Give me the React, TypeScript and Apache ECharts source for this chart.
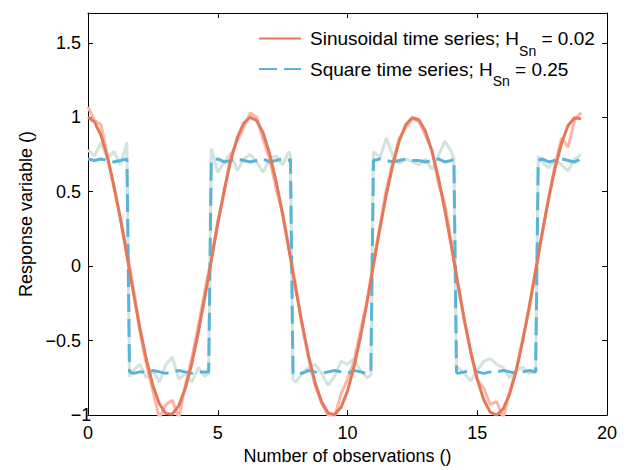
import React, { useEffect, useRef } from "react";
import * as echarts from "echarts";

// x grid for the sinusoidal series
const sinX = [0, 0.25, 0.5, 0.75, 1, 1.25, 1.5, 1.75, 2, 2.25, 2.5, 2.75, 3, 3.25, 3.5, 3.75, 4, 4.25, 4.5, 4.75, 5, 5.25, 5.5, 5.75, 6, 6.25, 6.5, 6.75, 7, 7.25, 7.5, 7.75, 8, 8.25, 8.5, 8.75, 9, 9.25, 9.5, 9.75, 10, 10.25, 10.5, 10.75, 11, 11.25, 11.5, 11.75, 12, 12.25, 12.5, 12.75, 13, 13.25, 13.5, 13.75, 14, 14.25, 14.5, 14.75, 15, 15.25, 15.5, 15.75, 16, 16.25, 16.5, 16.75, 17, 17.25, 17.5, 17.75, 18, 18.25, 18.5, 18.75, 19];

const sinSmooth = [1.0, 0.969, 0.878, 0.732, 0.54, 0.315, 0.071, -0.178, -0.416, -0.628, -0.801, -0.924, -0.99, -0.994, -0.936, -0.82, -0.654, -0.446, -0.211, 0.037, 0.284, 0.512, 0.709, 0.862, 0.96, 1.0, 0.977, 0.894, 0.754, 0.568, 0.347, 0.104, -0.146, -0.386, -0.602, -0.781, -0.911, -0.985, -0.997, -0.948, -0.839, -0.677, -0.476, -0.245, 0.004, 0.253, 0.484, 0.683, 0.844, 0.951, 0.998, 0.983, 0.907, 0.775, 0.595, 0.378, 0.137, -0.113, -0.356, -0.575, -0.76, -0.897, -0.98, -1.0, -0.958, -0.857, -0.702, -0.504, -0.275, -0.028, 0.22, 0.453, 0.66, 0.827, 0.945, 0.997, 0.989];

const sinNoisy = [1.07, 0.98, 0.95, 0.74, 0.52, 0.33, 0.1, -0.15, -0.44, -0.66, -0.84, -1.02, -0.93, -0.9, -1.02, -0.8, -0.62, -0.4, -0.17, 0.05, 0.3, 0.49, 0.74, 0.84, 0.93, 1.03, 1.0, 0.85, 0.72, 0.52, 0.36, 0.12, -0.13, -0.4, -0.62, -0.8, -0.92, -1.0, -1.01, -0.86, -0.76, -0.64, -0.43, -0.24, 0.03, 0.27, 0.52, 0.7, 0.86, 0.93, 0.99, 0.97, 0.88, 0.78, 0.56, 0.42, 0.16, -0.12, -0.37, -0.58, -0.76, -0.82, -0.93, -0.91, -1.02, -0.84, -0.7, -0.49, -0.29, -0.04, 0.22, 0.46, 0.68, 0.86, 0.8, 0.98, 1.03];

// x grid for the square series (extra points at the jumps)
const sqX = [0, 0.25, 0.5, 0.75, 1, 1.25, 1.5,
  1.6, 1.75, 2, 2.25, 2.5, 2.75, 3, 3.25, 3.5, 3.75, 4, 4.25, 4.5, 4.65,
  4.75, 5, 5.25, 5.5, 5.75, 6, 6.25, 6.5, 6.75, 7, 7.25, 7.5, 7.75, 7.8,
  7.9, 8, 8.25, 8.5, 8.75, 9, 9.25, 9.5, 9.75, 10, 10.25, 10.5, 10.75, 10.9,
  11, 11.25, 11.5, 11.75, 12, 12.25, 12.5, 12.75, 13, 13.25, 13.5, 13.75, 14, 14.1,
  14.2, 14.25, 14.5, 14.75, 15, 15.25, 15.5, 15.75, 16, 16.25, 16.5, 16.75, 17, 17.25,
  17.35, 17.5, 17.75, 18, 18.25, 18.5, 18.75, 19];

const sqSmooth = [0.72, 0.71, 0.72, 0.71, 0.7, 0.71, 0.72,
  -0.71, -0.72, -0.71, -0.71, -0.7, -0.71, -0.72, -0.71, -0.7, -0.71, -0.72, -0.71, -0.71, -0.71,
  0.71, 0.72, 0.7, 0.71, 0.72, 0.71, 0.7, 0.71, 0.72, 0.7, 0.71, 0.72, 0.71, 0.72,
  -0.72, -0.71, -0.72, -0.7, -0.71, -0.72, -0.71, -0.7, -0.71, -0.72, -0.7, -0.71, -0.72, -0.71,
  0.71, 0.72, 0.71, 0.7, 0.71, 0.72, 0.71, 0.71, 0.7, 0.71, 0.72, 0.7, 0.71, 0.72,
  -0.71, -0.72, -0.71, -0.7, -0.71, -0.72, -0.71, -0.71, -0.7, -0.71, -0.72, -0.71, -0.7, -0.71,
  0.71, 0.72, 0.7, 0.71, 0.72, 0.71, 0.7, 0.72];

const sqNoisy = [0.78, 0.74, 0.83, 0.72, 0.77, 0.68, 0.83,
  -0.74, -0.7, -0.66, -0.75, -0.7, -0.78, -0.66, -0.61, -0.76, -0.72, -0.78, -0.68, -0.74, -0.72,
  0.79, 0.63, 0.7, 0.76, 0.64, 0.72, 0.75, 0.7, 0.63, 0.72, 0.74, 0.68, 0.77, 0.74,
  -0.76, -0.78, -0.72, -0.68, -0.66, -0.72, -0.8, -0.74, -0.64, -0.66, -0.62, -0.7, -0.75, -0.73,
  0.77, 0.73, 0.86, 0.74, 0.69, 0.72, 0.7, 0.68, 0.72, 0.65, 0.74, 0.84, 0.77, 0.72,
  -0.7, -0.68, -0.72, -0.77, -0.7, -0.64, -0.62, -0.66, -0.68, -0.75, -0.7, -0.68, -0.72, -0.71,
  0.74, 0.7, 0.66, 0.72, 0.68, 0.64, 0.72, 0.75];

const sinName = "Sinusoidal time series; H_Sn = 0.02";
const sqName = "Square time series; H_Sn = 0.25";
const xTitle = "Number of observations ()";
const yTitle = "Response variable ()";

const FONT = "'Liberation Sans', Arial, Helvetica, sans-serif";

function pairs(xs: number[], ys: number[]) {
  return xs.map((x, i) => [x, ys[i]]);
}

export default function App() {
  const ref = useRef<HTMLDivElement>(null);
  useEffect(() => {
    document.body.style.margin = "0";
    const chart = echarts.init(ref.current!, null, { renderer: "svg" });
    const axisLine = { show: true, onZero: false, lineStyle: { color: "#000", width: 1 } };
    const tick = { show: true, inside: true, length: 5, lineStyle: { color: "#000", width: 1 } };
    chart.setOption({
      animation: false,
      backgroundColor: "#fff",
      textStyle: { fontFamily: FONT },
      grid: { left: 88, right: 22, top: 13, bottom: 49, containLabel: false },
      legend: {
        orient: "vertical",
        left: 258,
        top: 29,
        padding: 0,
        itemWidth: 42,
        itemHeight: 14,
        itemGap: 2,
        data: [sinName, sqName],
        itemStyle: { color: "rgba(0,0,0,0)", borderColor: "rgba(0,0,0,0)", borderWidth: 0, opacity: 0 },
        formatter: (n: string) => n.replace("_Sn", "{sub|Sn}"),
        textStyle: {
          fontFamily: FONT,
          fontSize: 19,
          color: "#000",
          padding: [0, 0, 0, 4],
          rich: {
            sub: { fontFamily: FONT, fontSize: 14, color: "#000", padding: [24, 0, 0, 0] },
          },
        },
      },
      xAxis: [
        {
          type: "value", min: 0, max: 20, interval: 5, position: "bottom",
          axisLine, axisTick: tick, splitLine: { show: false },
          axisLabel: { fontSize: 18, color: "#000", margin: 9, fontFamily: FONT, alignMinLabel: "center", alignMaxLabel: "center" },
          name: xTitle, nameLocation: "middle", nameGap: 28,
          nameTextStyle: { fontSize: 18, color: "#000", fontFamily: FONT },
        },
        {
          type: "value", min: 0, max: 20, interval: 5, position: "top",
          axisLine, axisTick: tick, splitLine: { show: false }, axisLabel: { show: false },
        },
      ],
      yAxis: [
        {
          type: "value", min: -1, max: 1.7, interval: 0.5, position: "left",
          axisLine, axisTick: tick, splitLine: { show: false },
          axisLabel: {
            fontSize: 18, color: "#000", margin: 7, fontFamily: FONT, showMaxLabel: false,
            verticalAlign: "middle", alignMinLabel: "center", alignMaxLabel: "center",
            formatter: (v: number) => String(v).replace("-", "\u2212"),
          },
          name: yTitle, nameLocation: "middle", nameGap: 50,
          nameTextStyle: { fontSize: 18, color: "#000", fontFamily: FONT },
        },
        {
          type: "value", min: -1, max: 1.7, interval: 0.5, position: "right",
          axisLine, axisTick: tick, splitLine: { show: false }, axisLabel: { show: false },
        },
      ],
      series: [
        {
          name: "sqNoisy", type: "line", data: pairs(sqX, sqNoisy), symbol: "none",
          lineStyle: { color: "#D3E3DE", width: 3 }, silent: true, clip: true,
        },
        {
          name: "sinNoisy", type: "line", data: pairs(sinX, sinNoisy), symbol: "none",
          lineStyle: { color: "#FBB6A6", width: 3 }, silent: true, clip: true,
        },
        {
          name: sqName, type: "line", data: pairs(sqX, sqSmooth), symbol: "none",
          color: "#5AB4D7",
          lineStyle: { color: "#5AB4D7", width: 3, type: [18, 7] }, clip: true,
        },
        {
          name: sinName, type: "line", data: pairs(sinX, sinSmooth), symbol: "none",
          color: "#E4785A",
          lineStyle: { color: "#E4785A", width: 3 }, clip: true,
        },
      ],
    });
    return () => chart.dispose();
  }, []);
  return <div ref={ref} style={{ width: 629, height: 470 }} />;
}
